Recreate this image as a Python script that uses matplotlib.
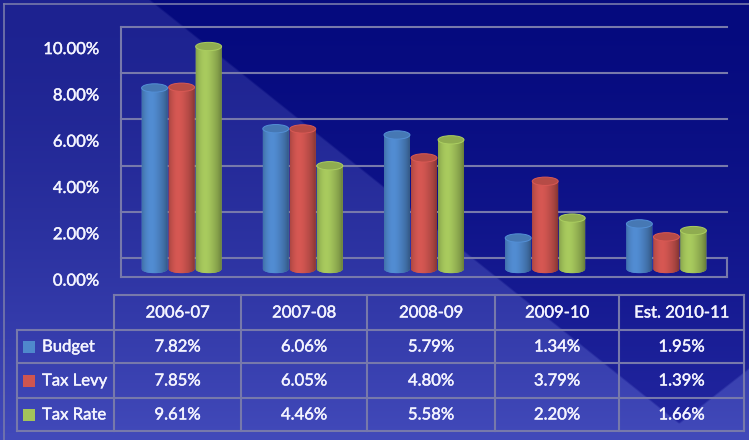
import numpy as np
import matplotlib
matplotlib.use("Agg")
import matplotlib.pyplot as plt
from matplotlib.patches import Ellipse, PathPatch, Rectangle
from matplotlib.path import Path
import matplotlib.transforms as mtransforms
import matplotlib.patheffects as pe

# ---------------- data ----------------
categories = ["2006-07", "2007-08", "2008-09", "2009-10", "Est. 2010-11"]
series_names = ["Budget", "Tax Levy", "Tax Rate"]
budget = [7.82, 6.06, 5.79, 1.34, 1.95]
tax_levy = [7.85, 6.05, 4.80, 3.79, 1.39]
tax_rate = [9.61, 4.46, 5.58, 2.20, 1.66]
y_ticks = [0, 2, 4, 6, 8, 10]
series_colors = ["#4f88cc", "#cf5550", "#a3c45b"]
series_values = [budget, tax_levy, tax_rate]

# ---------------- figure ----------------
W, H = 749, 440
fig = plt.figure(figsize=(W / 100, H / 100), dpi=100)
plt.rcParams['font.family'] = ['Lato', 'DejaVu Sans']

TXT = "#f4f4ff"
LINE = "#7779ab"
FX = [pe.Stroke(linewidth=0.3, foreground=TXT), pe.Normal()]

# background
bg = fig.add_axes([0, 0, 1, 1], zorder=-10)
yy, xx = np.mgrid[0:H, 0:W].astype(float)
t = (yy / H) ** 1.5
light_top = np.array([0x1d, 0x22, 0x90]) / 255
light_bot = np.array([0x42, 0x4a, 0xba]) / 255
dark_top = np.array([0x05, 0x0a, 0x7e]) / 255
dark_bot = np.array([0x24, 0x28, 0xa2]) / 255
light = light_top + (light_bot - light_top) * t[..., None]
dark = dark_top + (dark_bot - dark_top) * t[..., None]
d1 = (xx - 150 - 1.25 * yy) / 1.6
m1 = np.clip(d1 / 2 + 0.5, 0, 1)
d2 = ((440 - (xx - 657) * 0.783) - yy) / 1.27
m2 = np.clip(d2 / 2 + 0.5, 0, 1)
m = m1 * m2
img = light * (1 - m[..., None]) + dark * m[..., None]
bg.imshow(img, extent=(0, W, H, 0), aspect='auto', interpolation='bilinear')
bg.set_xlim(0, W)
bg.set_ylim(H, 0)
bg.axis('off')
bg.plot([4, 4], [4, H], color=LINE, lw=1.2)
bg.plot([4, W], [4, 4], color=LINE, lw=1.2)

# ---------------- chart ----------------
ax = fig.add_axes([121 / W, 1 - 280.6 / H, 606 / W, 254.7 / H])
ax.set_xlim(-0.5, 4.5)
ax.set_ylim(-0.5, 10.5)
ax.autoscale(False)
ax.axis('off')
ax.patch.set_alpha(0)

back = 0.47
front = -0.35
for v in y_ticks:
    ax.plot([-0.5, 4.5], [v + back, v + back], color=LINE, lw=1.5, clip_on=False, zorder=1)
ax.plot([-0.5, -0.5], [front, y_ticks[-1] + back], color=LINE, lw=1.5, clip_on=False, zorder=1)
ax.plot([-0.5, 4.5], [front, front], color=LINE, lw=1.5, clip_on=False, zorder=1)
ax.plot([4.5, 4.5], [front, back], color=LINE, lw=1.5, clip_on=False, zorder=1)

lab_tr = mtransforms.blended_transform_factory(fig.transFigure, ax.transData)
for v in y_ticks:
    ax.text(99 / W, v - 0.5, f"{v:.2f}%", transform=lab_tr, ha='right', va='center',
            color=TXT, fontsize=12, clip_on=False, path_effects=FX)

offsets = [-0.223, 0.0, 0.223]
bw = 0.214
eh = 0.36
u = np.linspace(0, 1, 64)
prof = 0.92 + 0.12 * np.exp(-((u - 0.35) / 0.3) ** 2) - 0.28 * u ** 5 - 0.12 * (1 - u) ** 8
th = np.linspace(np.pi, 2 * np.pi, 40)

for s, (vals, col) in enumerate(zip(series_values, series_colors)):
    base = np.array(matplotlib.colors.to_rgb(col))
    shade = np.clip(base[None, :] * prof[:, None], 0, 1)[None, :, :]
    for i, v in enumerate(vals):
        x = i + offsets[s]
        verts = [(x - bw / 2, v), (x - bw / 2, 0)]
        verts += [(x + bw / 2 * np.cos(a), eh / 2 * np.sin(a)) for a in th]
        verts += [(x + bw / 2, v), (x - bw / 2, v)]
        codes = [Path.MOVETO] + [Path.LINETO] * (len(verts) - 2) + [Path.CLOSEPOLY]
        body = PathPatch(Path(verts, codes), facecolor=col, edgecolor='none',
                         transform=ax.transData, zorder=3 + s * 0.01)
        ax.add_patch(body)
        im = ax.imshow(shade, extent=(x - bw / 2, x + bw / 2, -eh / 2, v), aspect='auto',
                       interpolation='bilinear', zorder=3.1 + s * 0.01)
        im.set_clip_path(body)
        top_col = np.clip(base * 0.88, 0, 1)
        ax.add_patch(Ellipse((x, v), bw, eh, facecolor=top_col,
                             edgecolor=np.clip(base * 1.05, 0, 1), lw=0.7, zorder=3.2 + s * 0.01))

# ---------------- table ----------------
tax = fig.add_axes([17 / W, 1 - 431 / H, 727 / W, 136 / H])
tax.set_xlim(0, 727)
tax.set_ylim(136, 0)
tax.axis('off')
tax.patch.set_alpha(0)
col_edges = [0, 97, 224, 350, 478, 602, 727]
row_edges = [0, 35, 68, 103, 136]
tl = dict(color=LINE, lw=1.5, clip_on=False)
tax.plot([col_edges[1], col_edges[-1]], [0, 0], **tl)
for r in row_edges[1:]:
    tax.plot([0, col_edges[-1]], [r, r], **tl)
tax.plot([0, 0], [row_edges[1], row_edges[-1]], **tl)
for c in col_edges[1:]:
    tax.plot([c, c], [0, row_edges[-1]], **tl)

for j, cat in enumerate(categories):
    cx = (col_edges[j + 1] + col_edges[j + 2]) / 2
    tax.text(cx, (row_edges[0] + row_edges[1]) / 2, cat, ha='center', va='center',
             color=TXT, fontsize=12, path_effects=FX)
for s, (name, vals, col) in enumerate(zip(series_names, series_values, series_colors)):
    cy = (row_edges[s + 1] + row_edges[s + 2]) / 2
    tax.add_patch(Rectangle((6, cy - 6), 12, 12, facecolor=col, edgecolor='none'))
    tax.text(25, cy, name, ha='left', va='center', color=TXT, fontsize=12, path_effects=FX)
    for j, v in enumerate(vals):
        cx = (col_edges[j + 1] + col_edges[j + 2]) / 2
        tax.text(cx, cy, f"{v:.2f}%", ha='center', va='center', color=TXT, fontsize=12,
                 path_effects=FX)

fig.savefig("out.png", dpi=100)
